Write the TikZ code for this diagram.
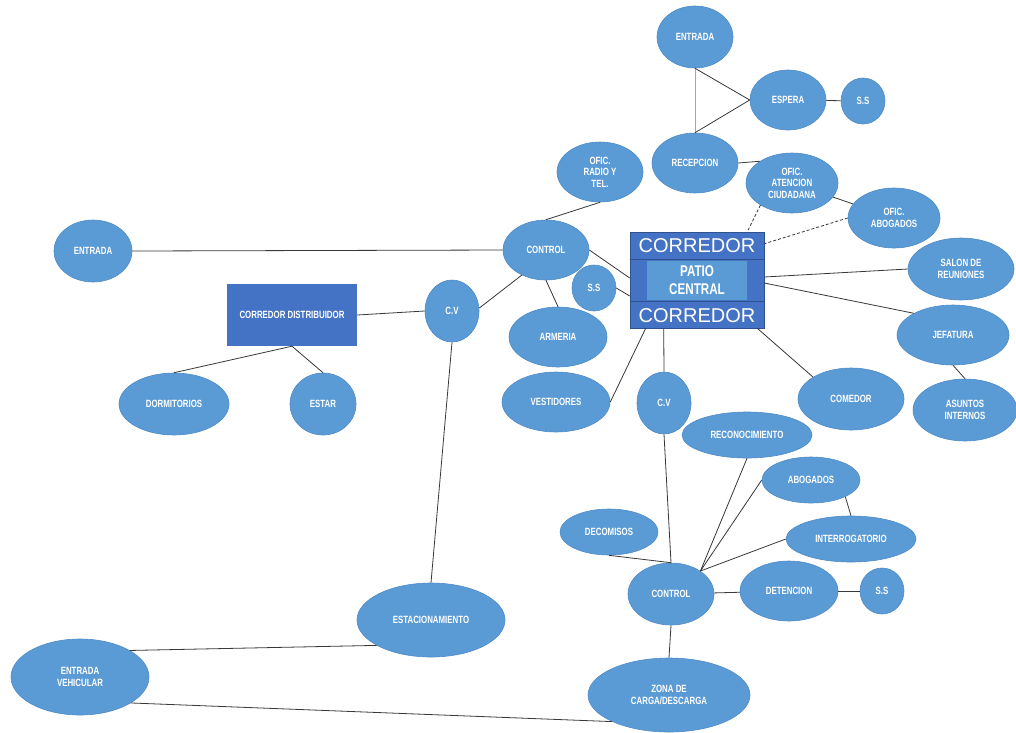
\documentclass[tikz,border=0pt]{standalone}
\usepackage{fontspec}
\newfontfamily\condf{Liberation Sans}[FakeStretch=0.75]
\newfontfamily\plainf{Liberation Sans}
\usetikzlibrary{shapes.geometric,calc}
\definecolor{nodeblue}{HTML}{5B9BD5}
\definecolor{nodeedge}{HTML}{4E8BC6}
\definecolor{boxblue}{HTML}{4472C4}
\definecolor{boxedge}{HTML}{2F528F}
\definecolor{linec}{HTML}{383838}
\newcommand\mylab{\condf\bfseries\fontsize{10.5}{11.5}\selectfont}
\tikzset{
  ell/.style={ellipse, fill=nodeblue, draw=nodeedge, line width=0.6pt, inner sep=0pt, text=white, align=center, font=\mylab},
  sz/.style 2 args={minimum width=#1pt, minimum height=#2pt},
  conn/.style={draw=linec, line width=0.8pt},
  dotc/.style={draw=linec, line width=0.8pt, densely dashed},
  corrtxt/.style={text=white, inner sep=0pt, font=\plainf\fontsize{20}{22}\selectfont},
}
\begin{document}
\begin{tikzpicture}[x=1pt,y=-1pt]
\useasboundingbox (0,0) rectangle (1016,732);
\fill[white] (0,0) rectangle (1016,732);

% central block
\node[rectangle, fill=boxblue, draw=boxedge, line width=0.6pt, minimum width=134pt, minimum height=96pt, inner sep=0pt] (box) at (697,280) {};
\draw[boxedge, line width=0.6pt] ($(box.north west)+(0,28)$) -- ($(box.north east)+(0,28)$);
\draw[boxedge, line width=0.6pt] ($(box.north west)+(0,70)$) -- ($(box.north east)+(0,70)$);
\node[rectangle, fill=nodeblue, minimum width=100pt, minimum height=39pt, inner sep=0pt, text=white, align=center, font=\condf\bfseries\fontsize{15.5}{18}\selectfont] (patio) at (697,280.5) {PATIO\\CENTRAL};
\node[corrtxt] (c1) at (697,246) {CORREDOR};
\node[corrtxt] (c2) at (697,316) {CORREDOR};

% upper right
\node[ell, sz={76}{62}] (ent2) at (695,37) {ENTRADA};
\node[ell, sz={76}{60}] (esp) at (788,100) {ESPERA};
\node[ell, sz={44}{46}] (ss1) at (863,101) {S.S};
\node[ell, sz={86}{60}] (rec) at (695,163) {RECEPCION};
\node[ell, sz={86}{60}] (radio) at (600,172) {OFIC.\\RADIO Y\\TEL.};
\node[ell, sz={92}{60}] (aten) at (792,183) {OFIC.\\ATENCION\\CIUDADANA};
\node[ell, sz={92}{60}] (abo) at (894,218) {OFIC.\\ABOGADOS};
\node[ell, sz={106}{62}] (sal) at (961,269) {SALON DE\\REUNIONES};
\node[ell, sz={112}{60}] (jef) at (953,335) {JEFATURA};
\node[ell, sz={106}{62}] (com) at (851,399) {COMEDOR};
\node[ell, sz={104}{62}] (asu) at (965,410) {ASUNTOS\\INTERNOS};

% middle
\node[ell, sz={86}{60}] (ctl) at (546,250) {CONTROL};
\node[ell, sz={44}{46}] (ss2) at (594,288) {S.S};
\node[ell, sz={98}{60}] (arm) at (558,337) {ARMERIA};
\node[ell, sz={108}{60}] (vest) at (556,402) {VESTIDORES};
\node[ell, sz={54}{62}] (cv2) at (664,403) {C.V};
\node[ell, sz={130}{46}] (reco) at (747,435) {RECONOCIMIENTO};
\node[ell, sz={98}{46}] (abg) at (811,480) {ABOGADOS};
\node[ell, sz={98}{46}] (deco) at (609,532) {DECOMISOS};
\node[ell, sz={130}{46}] (inter) at (851,539) {INTERROGATORIO};
\node[ell, sz={86}{62}] (ctl2) at (671,594) {CONTROL};
\node[ell, sz={98}{60}] (det) at (789,591) {DETENCION};
\node[ell, sz={44}{46}] (ss3) at (882,591) {S.S};
\node[ell, sz={162}{74}] (zona) at (669,695) {ZONA DE\\CARGA/DESCARGA};

% left
\node[ell, sz={78}{62}] (entl) at (93,251) {ENTRADA};
\node[rectangle, fill=boxblue, minimum width=130pt, minimum height=62pt, inner sep=0pt, text=white, font=\mylab] (cd) at (292,315) {CORREDOR DISTRIBUIDOR};
\node[ell, sz={54}{62}] (cvl) at (452,311) {C.V};
\node[ell, sz={110}{62}] (dorm) at (174,404) {DORMITORIOS};
\node[ell, sz={66}{62}] (estar) at (323,404) {ESTAR};
\node[ell, sz={148}{74}] (est) at (431,620) {ESTACIONAMIENTO};
\node[ell, sz={138}{76}] (ev) at (80,677) {ENTRADA\\VEHICULAR};

% connectors
\draw[draw=gray!70, line width=0.9pt] (ent2) -- (rec);
\draw[conn] (ent2.south) -- (esp.west);
\draw[conn] (rec.north) -- (esp.west);
\draw[conn] (esp) -- (ss1);
\draw[conn] (rec.east) -- (aten.146);
\draw[conn] (aten) -- (abo);
\draw[dotc] (aten.215) -- ([xshift=-17pt]box.north east);
\draw[dotc] (abo.west) -- ([yshift=-12pt]box.north east);
\draw[conn] (radio.south) -- (ctl.north);
\draw[conn] (entl.east) -- (ctl.west);
\draw[conn] (ctl.east) -- ([yshift=2pt]box.west);
\draw[conn] (ss2.east) -- ([yshift=-16pt]box.west);
\draw[conn] (ctl.south) -- (arm.north);
\draw[conn] (ctl.226) -- (cvl.6);
\draw[conn] (cvl.west) -- (cd.east);
\draw[conn] (cd.south) -- (dorm.north);
\draw[conn] (cd.south) -- (estar.north);
\draw[conn] (cvl.south) -- (est.north);
\draw[conn] ([xshift=16pt]box.south west) -- (vest.east);
\draw[conn] ([xshift=34pt]box.south west) -- (cv2.north);
\draw[conn] ([xshift=-7pt]box.south east) -- (com.150);
\draw[conn] ([yshift=3pt]box.east) -- (sal.west);
\draw[conn] ([yshift=-3pt]box.east) -- (jef.151);
\draw[conn] (jef.south) -- (asu.north);
\draw[conn] (cv2.south) -- (ctl2.north);
\draw[conn] (reco.south) -- (ctl2.38);
\draw[conn] (abg.west) -- (ctl2.38);
\draw[conn] (abg.-26) -- (inter.north);
\draw[conn] (inter.west) -- (ctl2.38);
\draw[conn] (deco.south) -- (ctl2.north);
\draw[conn] (ctl2) -- (det);
\draw[conn] (det) -- (ss3);
\draw[conn] (ctl2.south) -- (zona.north);
\draw[conn] (est.205) -- (ev.28);
\draw[conn] (ev.-27) -- (zona.205);
\end{tikzpicture}
\end{document}
